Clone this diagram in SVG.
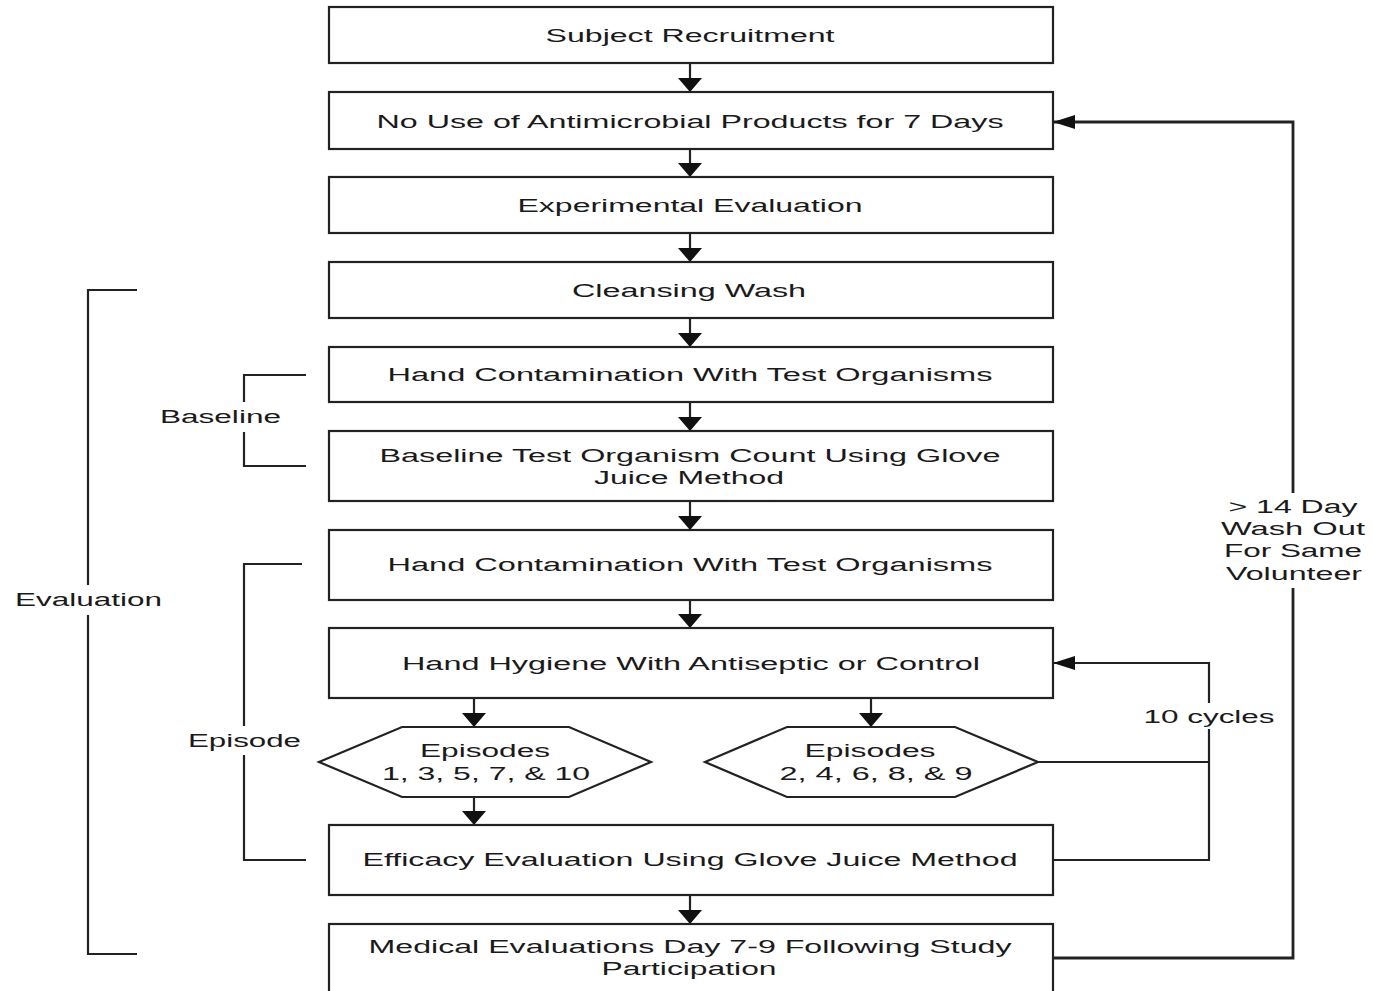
<svg xmlns="http://www.w3.org/2000/svg" width="1373" height="991" viewBox="0 0 1373 991">
<style>
.box{fill:#fff;stroke:#222;stroke-width:2.2}
.ln{fill:none;stroke:#222;stroke-width:2.2}
.lnb{fill:none;stroke:#222;stroke-width:2.8}
text{font-family:"Liberation Sans",Arial,sans-serif;font-size:18px;fill:#1a1a1a;text-anchor:middle}
.l{text-anchor:start}
</style>
<defs>
<marker id="av" markerUnits="userSpaceOnUse" markerWidth="14" markerHeight="24" viewBox="0 0 14 24" refX="14" refY="12" orient="auto">
<path d="M0,0 L14,12 L0,24 Z" fill="#111"/>
</marker>
<marker id="ahz" markerUnits="userSpaceOnUse" markerWidth="22" markerHeight="14" viewBox="0 0 22 14" refX="22" refY="7" orient="auto">
<path d="M0,0 L22,7 L0,14 Z" fill="#111"/>
</marker>
</defs>
<g id="connectors">
<line class="ln" x1="690" y1="63" x2="690" y2="92" marker-end="url(#av)"/>
<line class="ln" x1="690" y1="149" x2="690" y2="177" marker-end="url(#av)"/>
<line class="ln" x1="690" y1="233" x2="690" y2="262" marker-end="url(#av)"/>
<line class="ln" x1="690" y1="318" x2="690" y2="347" marker-end="url(#av)"/>
<line class="ln" x1="690" y1="402" x2="690" y2="431" marker-end="url(#av)"/>
<line class="ln" x1="690" y1="501" x2="690" y2="530" marker-end="url(#av)"/>
<line class="ln" x1="690" y1="600" x2="690" y2="628" marker-end="url(#av)"/>
<line class="ln" x1="474" y1="698" x2="474" y2="727" marker-end="url(#av)"/>
<line class="ln" x1="871" y1="698" x2="871" y2="727" marker-end="url(#av)"/>
<line class="ln" x1="474" y1="797" x2="474" y2="825" marker-end="url(#av)"/>
<line class="ln" x1="690" y1="895" x2="690" y2="924" marker-end="url(#av)"/>
<polyline class="ln" points="1038,762 1209,762"/>
<polyline class="ln" points="1053,860 1209,860 1209,729"/>
<polyline class="ln" points="1209,703 1209,663 1053,663" marker-end="url(#ahz)"/>
<polyline class="lnb" points="1053,958 1293,958 1293,588"/>
<polyline class="lnb" points="1293,493 1293,122 1053,122" marker-end="url(#ahz)"/>
<text transform="matrix(1.6,0,0,1,1209,723)" textLength="81.9" lengthAdjust="spacingAndGlyphs">10 cycles</text>
<text transform="matrix(1.6,0,0,1,1293,513)" textLength="80.6" lengthAdjust="spacingAndGlyphs">&gt; 14 Day</text>
<text transform="matrix(1.6,0,0,1,1293,535)" textLength="90" lengthAdjust="spacingAndGlyphs">Wash Out</text>
<text transform="matrix(1.6,0,0,1,1293,557)" textLength="86.3" lengthAdjust="spacingAndGlyphs">For Same</text>
<text transform="matrix(1.6,0,0,1,1294,580)" textLength="85" lengthAdjust="spacingAndGlyphs">Volunteer</text>
</g>
<g id="bracket-evaluation">
<polyline class="ln" points="137,290 88,290 88,585"/>
<polyline class="ln" points="88,615 88,954 137,954"/>
<text class="l" transform="matrix(1.6,0,0,1,15,606)" textLength="91.9" lengthAdjust="spacingAndGlyphs">Evaluation</text>
</g>
<g id="bracket-baseline">
<polyline class="ln" points="306,375 244,375 244,402"/>
<polyline class="ln" points="244,432 244,466 306,466"/>
<text class="l" transform="matrix(1.6,0,0,1,160,423)" textLength="75.6" lengthAdjust="spacingAndGlyphs">Baseline</text>
</g>
<g id="bracket-episode">
<polyline class="ln" points="302,564 244,564 244,726"/>
<polyline class="ln" points="244,755 244,860 306,860"/>
<text class="l" transform="matrix(1.6,0,0,1,188,747)" textLength="70.6" lengthAdjust="spacingAndGlyphs">Episode</text>
</g>
<g id="n1"><rect class="box" x="329" y="7" width="724" height="56"/><text transform="matrix(1.6,0,0,1,690,42)" textLength="180.6" lengthAdjust="spacingAndGlyphs">Subject Recruitment</text></g>
<g id="n2"><rect class="box" x="329" y="92" width="724" height="57"/><text transform="matrix(1.6,0,0,1,690,128)" textLength="391.9" lengthAdjust="spacingAndGlyphs">No Use of Antimicrobial Products for 7 Days</text></g>
<g id="n3"><rect class="box" x="329" y="177" width="724" height="56"/><text transform="matrix(1.6,0,0,1,690,212)" textLength="215.6" lengthAdjust="spacingAndGlyphs">Experimental Evaluation</text></g>
<g id="n4"><rect class="box" x="329" y="262" width="724" height="56"/><text transform="matrix(1.6,0,0,1,689,297)" textLength="146.3" lengthAdjust="spacingAndGlyphs">Cleansing Wash</text></g>
<g id="n5"><rect class="box" x="329" y="347" width="724" height="55"/><text transform="matrix(1.6,0,0,1,690,381)" textLength="378.1" lengthAdjust="spacingAndGlyphs">Hand Contamination With Test Organisms</text></g>
<g id="n6"><rect class="box" x="329" y="431" width="724" height="70"/><text transform="matrix(1.6,0,0,1,690,462)" textLength="388.1" lengthAdjust="spacingAndGlyphs">Baseline Test Organism Count Using Glove</text><text transform="matrix(1.6,0,0,1,689,484)" textLength="118.8" lengthAdjust="spacingAndGlyphs">Juice Method</text></g>
<g id="n7"><rect class="box" x="329" y="530" width="724" height="70"/><text transform="matrix(1.6,0,0,1,690,571)" textLength="378.1" lengthAdjust="spacingAndGlyphs">Hand Contamination With Test Organisms</text></g>
<g id="n8"><rect class="box" x="329" y="628" width="724" height="70"/><text transform="matrix(1.6,0,0,1,691,670)" textLength="361.3" lengthAdjust="spacingAndGlyphs">Hand Hygiene With Antiseptic or Control</text></g>
<g id="h1"><polygon class="box" points="319,762 402,727 569,727 651,762 569,797 402,797"/><text transform="matrix(1.6,0,0,1,485,757)" textLength="81.3" lengthAdjust="spacingAndGlyphs">Episodes</text><text transform="matrix(1.6,0,0,1,486,780)" textLength="130" lengthAdjust="spacingAndGlyphs">1, 3, 5, 7, &amp; 10</text></g>
<g id="h2"><polygon class="box" points="705,762 787,727 955,727 1038,762 955,797 787,797"/><text transform="matrix(1.6,0,0,1,870,757)" textLength="81.9" lengthAdjust="spacingAndGlyphs">Episodes</text><text transform="matrix(1.6,0,0,1,876,780)" textLength="120.6" lengthAdjust="spacingAndGlyphs">2, 4, 6, 8, &amp; 9</text></g>
<g id="n9"><rect class="box" x="329" y="825" width="724" height="70"/><text transform="matrix(1.6,0,0,1,690,866)" textLength="409.4" lengthAdjust="spacingAndGlyphs">Efficacy Evaluation Using Glove Juice Method</text></g>
<g id="n10"><rect class="box" x="329" y="924" width="724" height="80"/><text transform="matrix(1.6,0,0,1,690,953)" textLength="401.9" lengthAdjust="spacingAndGlyphs">Medical Evaluations Day 7-9 Following Study</text><text transform="matrix(1.6,0,0,1,689,975)" textLength="109.4" lengthAdjust="spacingAndGlyphs">Participation</text></g>
</svg>
